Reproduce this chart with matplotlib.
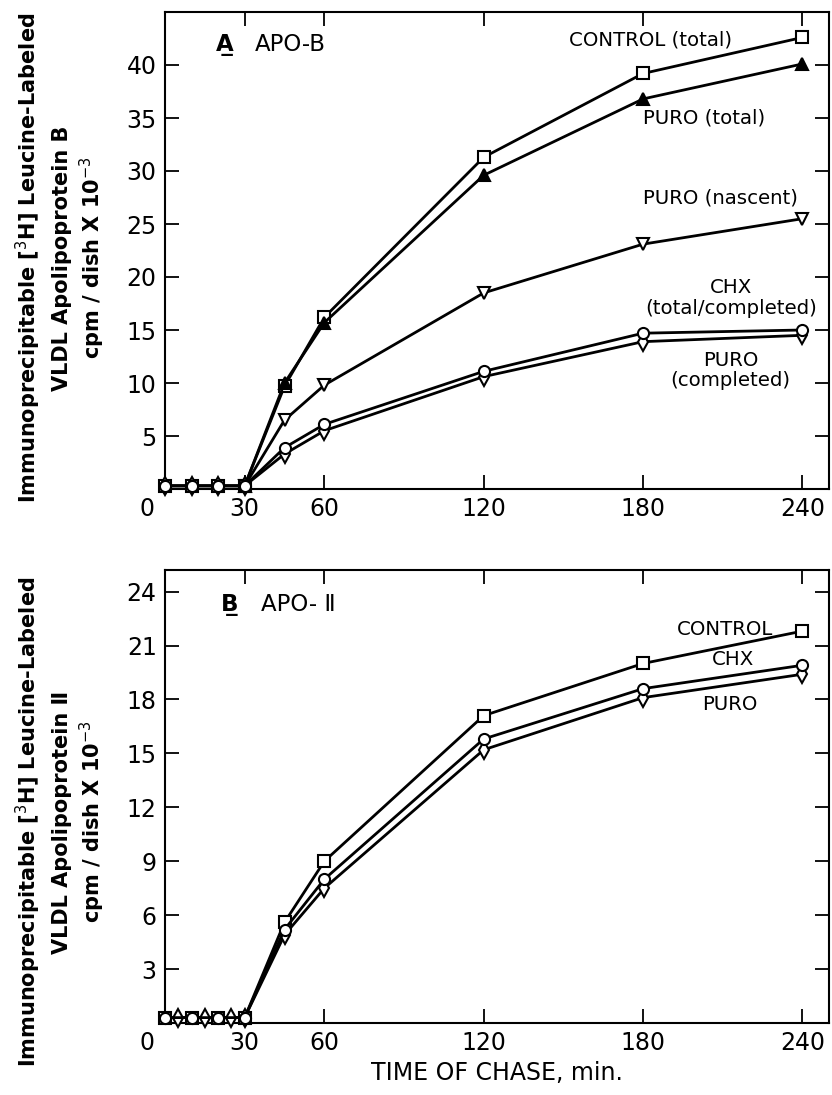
import matplotlib
matplotlib.use("Agg")
import matplotlib.pyplot as plt

plt.rcParams['font.family'] = ['DejaVu Sans']

# ---------------- Panel A data (APO-B) ----------------
a_x_early = [0, 10, 20, 30]
a_x_late = [45, 60, 120, 180, 240]
a_early = [0.3, 0.3, 0.3, 0.3]
a_control = [9.7, 16.2, 31.3, 39.2, 42.6]
a_puro_total = [10.0, 15.7, 29.6, 36.8, 40.1]
a_puro_nascent = [6.5, 9.8, 18.5, 23.1, 25.5]
a_chx = [3.9, 6.1, 11.1, 14.7, 15.0]
a_puro_completed = [3.3, 5.5, 10.6, 13.9, 14.5]
a_yticks = [5, 10, 15, 20, 25, 30, 35, 40]

# ---------------- Panel B data (APO-II) ----------------
b_x_early_even = [0, 10, 20, 30]
b_x_early_odd = [5, 15, 25, 30]
b_early = [0.3, 0.3, 0.3, 0.3]
b_x_late = [45, 60, 120, 180, 240]
b_control = [5.6, 9.0, 17.1, 20.0, 21.8]
b_chx = [5.2, 8.0, 15.8, 18.6, 19.9]
b_puro = [4.9, 7.5, 15.2, 18.1, 19.4]
b_yticks = [3, 6, 9, 12, 15, 18, 21, 24]

xticks = [30, 60, 120, 180, 240]

W, H = 832, 1095
fig = plt.figure(figsize=(W / 100, H / 100), dpi=100)

def box(l, r, t, b):
    return [l / W, 1 - b / H, (r - l) / W, (b - t) / H]

axA = fig.add_axes(box(165, 829, 12, 489))
axB = fig.add_axes(box(165, 829, 570, 1023))

LW = 2.0
MS = 8
MEW = 1.5

def series(ax, x, y, marker, filled=False, z=3, ms=MS):
    ax.plot(x, y, color='black', lw=LW, marker=marker, ms=ms,
            mfc='black' if filled else 'white', mec='black', mew=MEW,
            zorder=z, clip_on=False)

# Panel A
series(axA, a_x_early + a_x_late, a_early + a_control, 's')
series(axA, [30] + a_x_late, [0.3] + a_puro_total, '^', filled=True, z=4, ms=9)
series(axA, [30] + a_x_late, [0.3] + a_puro_nascent, 'v', ms=9)
series(axA, a_x_early + a_x_late, a_early + a_puro_completed, 'd', ms=9)
series(axA, a_x_early + a_x_late, a_early + a_chx, 'o', z=4)

# Panel B
series(axB, b_x_early_even + b_x_late, b_early + b_control, 's')
series(axB, b_x_early_odd + b_x_late, b_early + b_puro, 'd', ms=9)
series(axB, b_x_early_even + b_x_late, b_early + b_chx, 'o', z=4)

TFS = 17
for ax, yt, ylim in ((axA, a_yticks, (0, 45)), (axB, b_yticks, (0, 25.2))):
    ax.set_xlim(0, 250)
    ax.set_ylim(*ylim)
    ax.set_xticks(xticks)
    ax.set_yticks(yt)
    ax.tick_params(direction='in', length=10, width=1.3, top=True, right=True,
                   labelsize=TFS, pad=6)
    for s in ax.spines.values():
        s.set_linewidth(1.5)
    ax.annotate('0', xy=(0, 0), xycoords=('data', 'axes fraction'),
                xytext=(-13, -6), textcoords='offset points',
                ha='center', va='top', fontsize=TFS)

FS = 14.2
# Panel A annotations
axA.text(19, 41.9, 'A\u0332', fontsize=16.5, fontweight='bold', ha='left', va='center')
axA.text(34, 41.9, 'APO-B', fontsize=16.5, ha='left', va='center')
axA.text(183, 42.4, 'CONTROL (total)', fontsize=FS, ha='center', va='center')
axA.text(203, 35.0, 'PURO (total)', fontsize=FS, ha='center', va='center')
axA.text(209, 27.5, 'PURO (nascent)', fontsize=FS, ha='center', va='center')
axA.text(213, 18.0, 'CHX\n(total/completed)', fontsize=FS, ha='center', va='center',
         linespacing=1.1)
axA.text(213, 11.2, 'PURO\n(completed)', fontsize=FS, ha='center', va='center',
         linespacing=1.1)

# Panel B annotations
axB.text(21, 23.3, 'B\u0332', fontsize=16.5, fontweight='bold', ha='left', va='center')
axB.text(36, 23.3, 'APO- Ⅱ', fontsize=16.5, ha='left', va='center')
axB.text(211, 21.9, 'CONTROL', fontsize=FS, ha='center', va='center')
axB.text(214, 20.2, 'CHX', fontsize=FS, ha='center', va='center')
axB.text(212.5, 17.7, 'PURO', fontsize=FS, ha='center', va='center')

axB.set_xlabel('TIME OF CHASE, min.', fontsize=17, labelpad=4)

# Y labels (three lines each)
YFS = 15
def ylab(yc, second):
    fig.text(28 / W, yc, r'Immunoprecipitable [$^3$H] Leucine-Labeled',
             rotation=90, ha='center', va='center', fontsize=YFS, fontweight='bold')
    fig.text(62 / W, yc, second, rotation=90, ha='center', va='center',
             fontsize=YFS, fontweight='bold')
    fig.text(92 / W, yc, r'cpm / dish X 10$^{-3}$', rotation=90, ha='center',
             va='center', fontsize=YFS, fontweight='bold')

ylab(1 - 258 / H, 'VLDL Apolipoprotein B')
ylab(1 - 822 / H, 'VLDL Apolipoprotein Ⅱ')

fig.savefig('out.png', dpi=100)
